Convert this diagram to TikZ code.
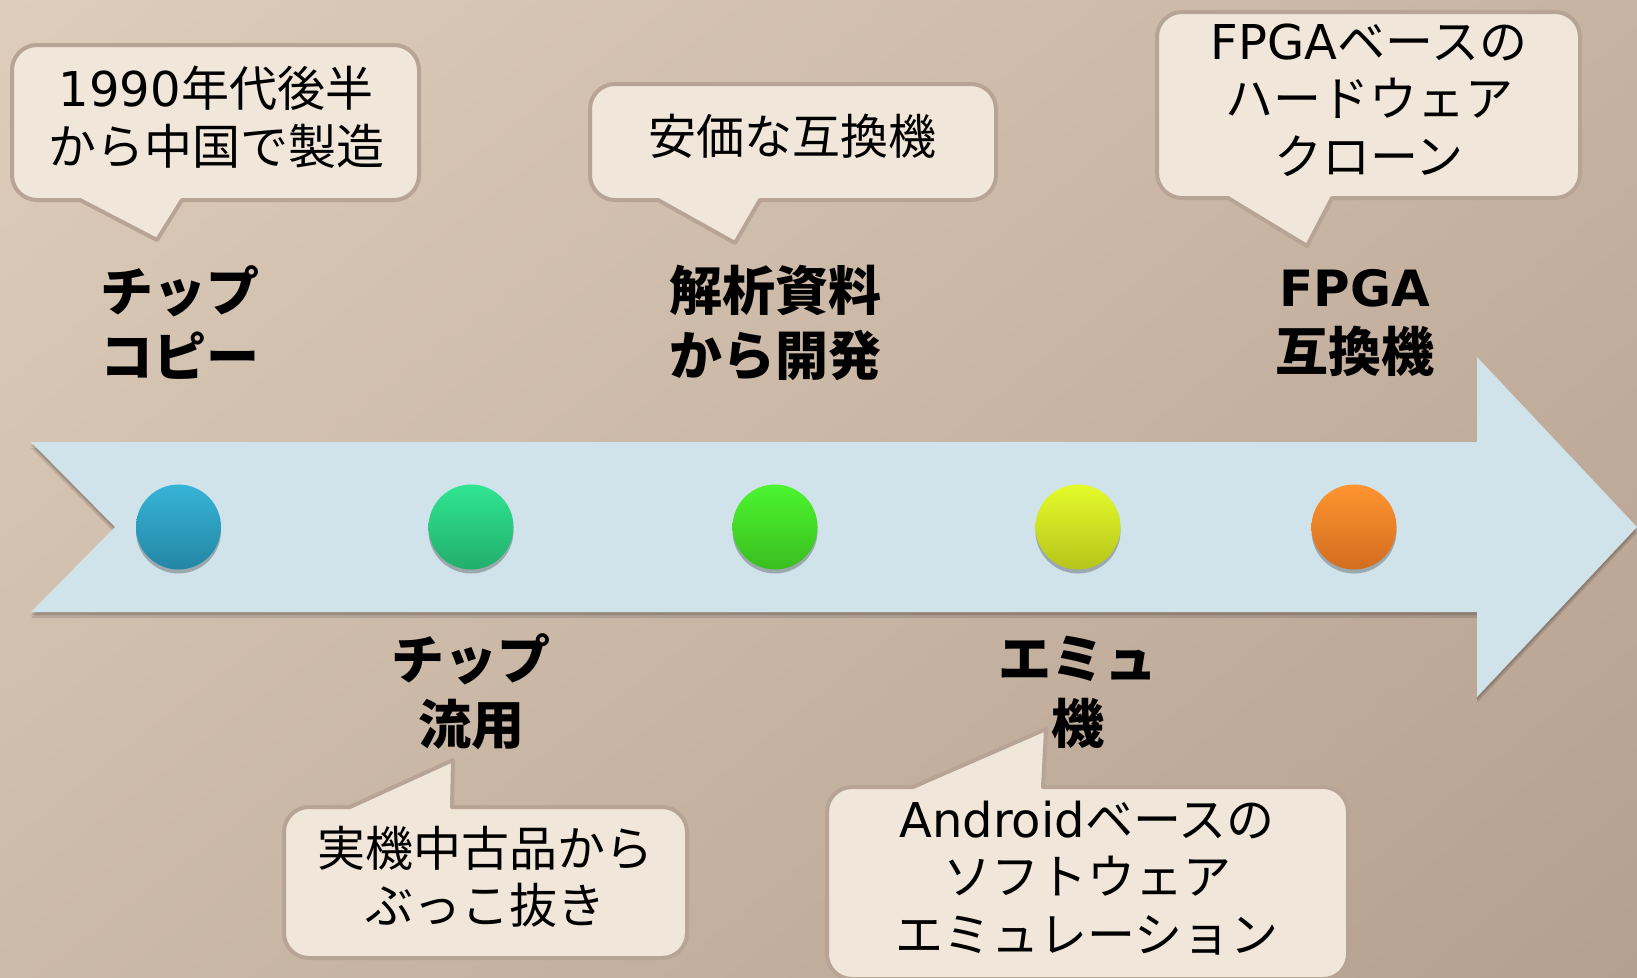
\documentclass[tikz,border=0pt]{standalone}
\usepackage{fontspec}
\newfontfamily\jp{Noto Sans CJK JP}
\newfontfamily\dv{DejaVu Sans}
\usetikzlibrary{shadows,shadings}
\definecolor{bgUL}{HTML}{DECDBB}
\definecolor{bgUR}{HTML}{C7B3A1}
\definecolor{bgLL}{HTML}{CCBAA9}
\definecolor{bgLR}{HTML}{B5A08F}
\definecolor{arrowfill}{HTML}{D0E2EA}
\definecolor{calfill}{HTML}{F0E6D9}
\definecolor{calborder}{HTML}{B8A495}
\definecolor{blueT}{HTML}{36B4D8}\definecolor{blueB}{HTML}{2486A4}
\definecolor{greenAT}{HTML}{30E592}\definecolor{greenAB}{HTML}{22AE6C}
\definecolor{greenBT}{HTML}{4CF52F}\definecolor{greenBB}{HTML}{3BBE1F}
\definecolor{yelT}{HTML}{E4FB2B}\definecolor{yelB}{HTML}{B6C51B}
\definecolor{orT}{HTML}{FF9530}\definecolor{orB}{HTML}{D26D1F}
\newcommand\calldown[8]{%
  \draw[callout] (#1+25,#2) -- (#3-25,#2) arc[start angle=270,end angle=360,radius=25]
    -- (#3,#4-25) arc[start angle=0,end angle=90,radius=25]
    -- (#6,#4) -- (#7,#8) -- (#5,#4)
    -- (#1+25,#4) arc[start angle=90,end angle=180,radius=25]
    -- (#1,#2+25) arc[start angle=180,end angle=270,radius=25] -- cycle;}
\newcommand\callup[8]{%
  \draw[callout] (#1+25,#2) -- (#5,#2) -- (#7,#8) -- (#6,#2)
    -- (#3-25,#2) arc[start angle=270,end angle=360,radius=25]
    -- (#3,#4-25) arc[start angle=0,end angle=90,radius=25]
    -- (#1+25,#4) arc[start angle=90,end angle=180,radius=25]
    -- (#1,#2+25) arc[start angle=180,end angle=270,radius=25] -- cycle;}
\begin{document}
\begin{tikzpicture}[x=1pt,y=-1pt,
  callout/.style={fill=calfill,draw=calborder,line width=4pt,line join=round},
  ctext/.style={font=\jp\fontsize{48}{57.5}\selectfont,align=center,inner sep=0pt,text=black},
  lbl/.style={font=\jp\bfseries\fontsize{53}{65}\selectfont,align=center,inner sep=0pt,text=black},
  dot/.style={circle,minimum size=85pt,inner sep=0pt,
    drop shadow={shadow xshift=0pt,shadow yshift=-4pt,opacity=0.25,fill=black}}]
\shade[upper left=bgUL,upper right=bgUR,lower left=bgLL,lower right=bgLR] (0,0) rectangle (1637,977);
\useasboundingbox (0,0) rectangle (1637,977);
% arrow shadow
\fill[black,opacity=0.12,yshift=-6pt] (31,442) -- (1477,442) -- (1477,357) -- (1637,527) -- (1477,697) -- (1477,612) -- (31,612) -- (115,527) -- cycle;
\fill[black,opacity=0.15,yshift=-3pt] (31,442) -- (1477,442) -- (1477,357) -- (1637,527) -- (1477,697) -- (1477,612) -- (31,612) -- (115,527) -- cycle;
\fill[arrowfill] (31,442) -- (1477,442) -- (1477,357) -- (1637,527) -- (1477,697) -- (1477,612) -- (31,612) -- (115,527) -- cycle;
% dots
\node[dot,top color=blueT,bottom color=blueB] (d1) at (178.5,527) {};
\node[dot,top color=greenAT,bottom color=greenAB] (d2) at (471,527) {};
\node[dot,top color=greenBT,bottom color=greenBB] (d3) at (775,527) {};
\node[dot,top color=yelT,bottom color=yelB] (d4) at (1078,527) {};
\node[dot,top color=orT,bottom color=orB] (d5) at (1354,527) {};
% callouts
\calldown{12}{45}{419}{200}{80}{182}{157}{240}
\calldown{590}{84}{996}{200}{658}{760}{735}{243}
\calldown{1157}{12}{1580}{198}{1228}{1332}{1307}{246}
\callup{284}{807}{687}{958}{350}{452}{453}{760}
\callup{827}{787}{1348}{979}{913}{1043}{1046}{729}
% callout texts
\node[ctext] (t1) at (216,117) {{\dv 1990}年代後半\\から中国で製造};
\node[ctext] (t2) at (792,136) {安価な互換機};
\node[ctext] (t3) at (1369,100) {{\dv FPGA}ベースの\\ハードウェア\\クローン};
\node[ctext] (t4) at (485,877) {実機中古品から\\ぶっこ抜き};
\node[ctext] (t5) at (1087,878) {{\dv Android}ベースの\\ソフトウェア\\エミュレーション};
% labels
\node[lbl] (l1) at (180,323) {チップ\\コピー};
\node[lbl] (l2) at (775,323) {解析資料\\から開発};
\node[lbl] (l3) at (1355,323) {{\dv\bfseries\fontsize{50}{65}\selectfont FPGA}\\互換機};
\node[lbl] (l4) at (471,692) {チップ\\流用};
\node[lbl] (l5) at (1078,692) {エミュ\\機};
\end{tikzpicture}
\end{document}
